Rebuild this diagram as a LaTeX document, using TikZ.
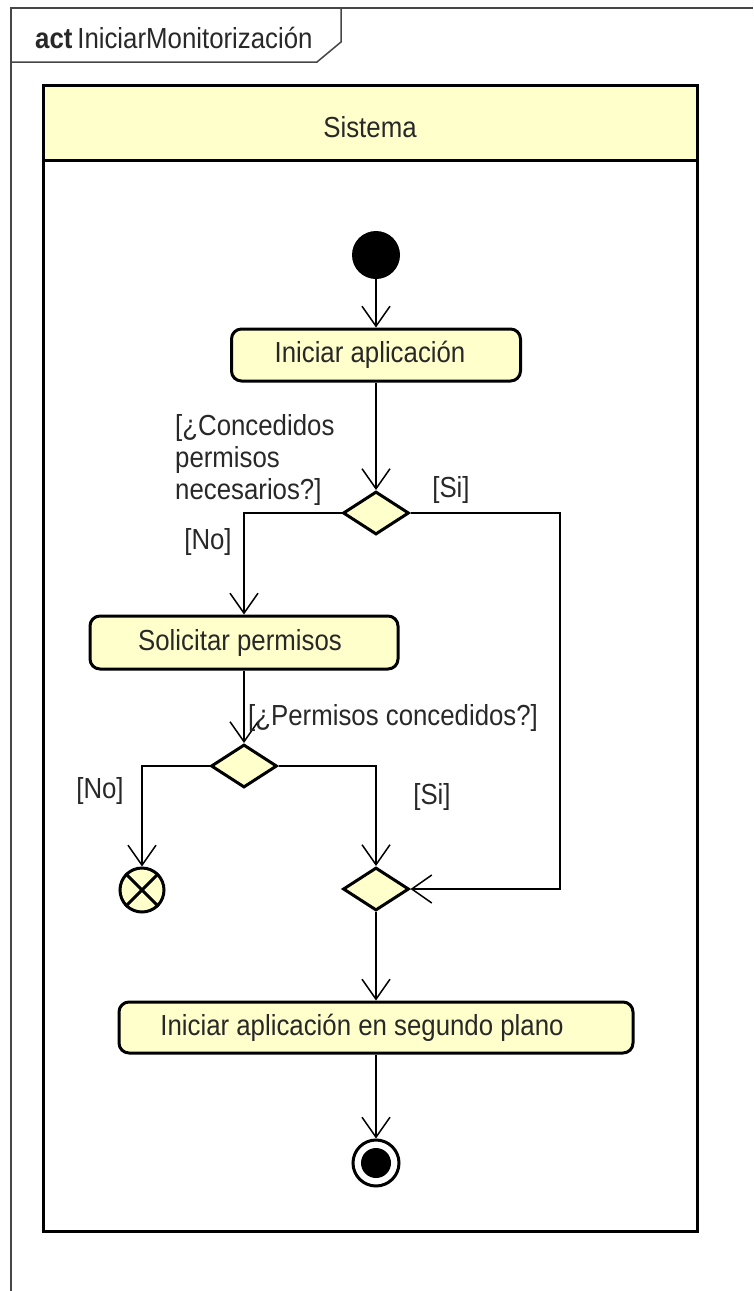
\documentclass[tikz,border=0pt]{standalone}
\usepackage{fontspec}
\setmainfont{Liberation Sans}
\newfontfamily\umlfont[FakeStretch=0.89]{Liberation Sans}
\usetikzlibrary{arrows.meta,shapes.geometric}
\definecolor{actfill}{RGB}{255,255,204}
\definecolor{framegray}{RGB}{70,70,70}
\definecolor{txtgray}{RGB}{40,40,40}
\begin{document}
\begin{tikzpicture}[x=1pt,y=-1pt,
  umltext/.style={font=\umlfont\fontsize{29}{32}\selectfont, text=txtgray, inner sep=0pt},
  action/.style={draw, line width=3pt, fill=actfill, rounded corners=10pt, umltext},
  decision/.style={diamond, draw, line width=3pt, fill=actfill, inner sep=0pt,
                   minimum width=66pt, minimum height=43pt},
  flow/.style={line width=1.5pt, -{Straight Barb[length=20pt,width=28pt,line width=1.5pt]}},
  guard/.style={umltext}
]
\useasboundingbox (0,0) rectangle (753,1291);

% diagram frame with its name tab
\draw[framegray, line width=1.5pt] (11,1291) -- (11,8) -- (753,8);
\draw[framegray, line width=1.5pt] (11,62) -- (317,62) -- (341,42) -- (341,8);
\node[umltext, anchor=west] (title) at (35,38)
  {\textbf{act}\,IniciarMonitorización};

% swimlane
\fill[actfill] (43,85) rectangle (697,160);
\draw[line width=3pt] (43,85) rectangle (697,1231);
\draw[line width=3pt] (43,160) -- (697,160);
\node[umltext] (lane) at (370,127) {Sistema};

% nodes (labels sit a little left of the box centre)
\node[circle, fill=black, minimum size=48pt, inner sep=0pt] (start) at (376,255) {};
\node[action, minimum width=289pt, minimum height=52pt] (a1) at (376,355)
  {\hspace*{-12pt}Iniciar aplicación};
\node[decision] (d1) at (376,513) {};
\node[action, minimum width=308pt, minimum height=53pt] (a2) at (244,642.5)
  {\hspace*{-8pt}Solicitar permisos};
\node[decision] (d2) at (244,766) {};
\node[circle, draw, line width=3pt, fill=actfill, minimum size=44pt, inner sep=0pt] (ff) at (142,890) {};
\draw[line width=3pt] (ff.45) -- (ff.225) (ff.135) -- (ff.-45);
\node[decision] (m) at (376,889) {};
\node[action, minimum width=514pt, minimum height=51pt] (a3) at (376,1027.5)
  {\hspace*{-28pt}Iniciar aplicación en segundo plano};
\node[circle, draw, line width=3pt, fill=white, minimum size=46pt, inner sep=0pt] (fin) at (376,1163) {};
\fill[black] (fin.center) circle (15pt);

% connectors
\coordinate (rc) at (560,513);
\draw[flow] (start) -- (a1);
\draw[flow] (a1) -- (d1);
\draw[flow] (d1.west) -| (a2);
\draw[flow] (d1.east) -- (rc) |- (m.east);
\draw[flow] (a2) -- (d2);
\draw[flow] (d2.west) -| (ff);
\draw[flow] (d2.east) -| (m);
\draw[flow] (m) -- (a3);
\draw[flow] (a3) -- (fin);

% guards
\node[guard, align=left, anchor=north west] (g1) at (175,414)
  {[¿Concedidos\\permisos\\necesarios?]};
\node[guard] (g2) at (451,490) {[Si]};
\node[guard] (g3) at (208,542) {[No]};
\node[guard, anchor=west] (g4) at (248,717.5) {[¿Permisos concedidos?]};
\node[guard] (g5) at (100,791) {[No]};
\node[guard] (g6) at (432,797) {[Si]};
\end{tikzpicture}
\end{document}
